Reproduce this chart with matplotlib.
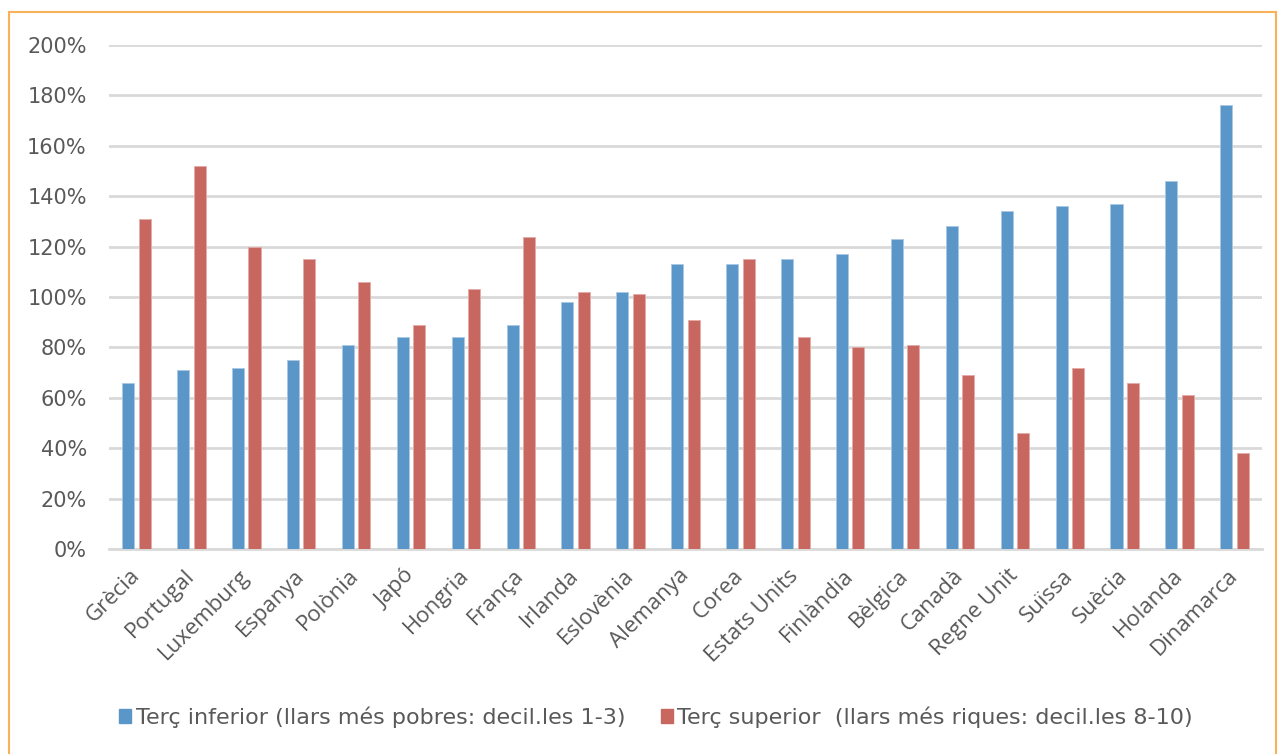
import matplotlib
matplotlib.use("Agg")
import matplotlib.pyplot as plt
import numpy as np
from matplotlib.patches import Rectangle, Patch
from matplotlib.ticker import FuncFormatter

countries = ["Grècia", "Portugal", "Luxemburg", "Espanya", "Polònia", "Japó", "Hongria",
             "França", "Irlanda", "Eslovènia", "Alemanya", "Corea", "Estats Units",
             "Finlàndia", "Bèlgica", "Canadà", "Regne Unit", "Suïssa", "Suècia",
             "Holanda", "Dinamarca"]
inferior = [66, 71, 72, 75, 81, 84, 84, 89, 98, 102, 113, 113, 115, 117, 123, 128, 134, 136, 137, 146, 176]
superior = [131, 152, 120, 115, 106, 89, 103, 124, 102, 101, 91, 115, 84, 80, 81, 69, 46, 72, 66, 61, 38]
label_inf = "Terç inferior (llars més pobres: decil.les 1-3)"
label_sup = "Terç superior  (llars més riques: decil.les 8-10)"

blue = "#5B96C8"
red = "#C8675F"
txt = "#595959"

W, H = 1279, 754
fig = plt.figure(figsize=(W / 100, H / 100), dpi=100)
fig.patches.append(Rectangle((9 / W, -0.1), (1276 - 9) / W, 1.1 - 12 / H,
                             transform=fig.transFigure, fill=False,
                             edgecolor="#F9B25A", linewidth=1.5))

ax = fig.add_axes([109 / W, (H - 549) / H, (1262 - 109) / W, (549 - 45) / H])
x = np.arange(len(countries))
w = 0.22
ax.bar(x - 0.15, inferior, w, color=blue, edgecolor="#A9C8E4", linewidth=0.6, zorder=3)
ax.bar(x + 0.15, superior, w, color=red, edgecolor="#E3ACA7", linewidth=0.6, zorder=3)

ax.set_ylim(0, 200)
ax.set_xlim(-0.5, len(countries) - 0.5)
ax.set_yticks(np.arange(0, 201, 20))
ax.yaxis.set_major_formatter(FuncFormatter(lambda v, p: f"{int(v)}%"))
ax.grid(axis="y", color="#D9D9D9", linewidth=2, zorder=0)
for s in ["top", "right", "left"]:
    ax.spines[s].set_visible(False)
ax.spines["bottom"].set_color("#D9D9D9")
ax.spines["bottom"].set_linewidth(2)
ax.tick_params(axis="y", length=0, pad=16, labelsize=15, labelcolor=txt)
ax.tick_params(axis="x", length=0, pad=17, labelcolor=txt)
ax.set_xticks(x)
ax.set_xticklabels(countries, rotation=45, ha="right", va="center",
                   rotation_mode="anchor", fontsize=16, family="Open Sans")

handles = [Patch(color=blue, label=label_inf), Patch(color=red, label=label_sup)]
fig.legend(handles=handles, loc="center", bbox_to_anchor=(656 / W, 1 - 717 / H),
           ncol=2, frameon=False, fontsize=16, labelcolor=txt,
           handlelength=0.55, handleheight=0.6, handletextpad=0.2, columnspacing=1.6)

fig.savefig("out.png", dpi=100)
